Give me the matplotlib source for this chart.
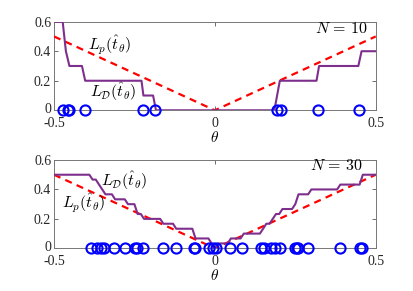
import numpy as np
import matplotlib
matplotlib.use("Agg")
import matplotlib.pyplot as plt
from matplotlib.transforms import ScaledTranslation

# ---------------- data ----------------
# N = 10 panel
theta_lp = [-0.5, 0.0, 0.5]
lp_vals = [0.5, 0.0, 0.5]

samples_10 = [-0.471, -0.457, -0.453, -0.403, -0.224, -0.186,
              0.194, 0.205, 0.322, 0.449]

ld10_theta = [-0.5, -0.473, -0.463, -0.452, -0.413, -0.403, -0.228, -0.222,
              -0.192, -0.183, 0.185, 0.202, 0.316, 0.324, 0.446, 0.456, 0.5]
ld10_vals = [0.6, 0.6, 0.4, 0.3, 0.3, 0.2, 0.2, 0.1,
             0.1, 0.0, 0.0, 0.2, 0.2, 0.3, 0.3, 0.4, 0.4]

# N = 30 panel
samples_30 = [-0.385, -0.366, -0.355, -0.345, -0.313, -0.278, -0.248, -0.242,
              -0.222, -0.161, -0.121, -0.065, -0.062, -0.017, -0.007,
              0.004, 0.046, 0.083, 0.143, 0.153, 0.173, 0.187, 0.203,
              0.249, 0.255, 0.258, 0.290, 0.389, 0.451, 0.457]

ld30_theta = [-0.50, -0.39, -0.38, -0.37, -0.36, -0.35, -0.34, -0.32, -0.31,
              -0.28, -0.27, -0.25, -0.24, -0.23, -0.22, -0.17, -0.16, -0.13,
              -0.12, -0.07, -0.06, -0.02, -0.01, 0.00, 0.01, 0.04, 0.05,
              0.08, 0.09, 0.14, 0.15, 0.16, 0.17, 0.18, 0.19, 0.20, 0.21,
              0.24, 0.25, 0.26, 0.29, 0.30, 0.38, 0.39, 0.45, 0.46, 0.50]
ld30_vals = [0.5, 0.5, 0.467, 0.467, 0.433, 0.4, 0.367, 0.367, 0.333,
             0.333, 0.3, 0.3, 0.233, 0.233, 0.2, 0.2, 0.167, 0.167,
             0.133, 0.133, 0.067, 0.067, 0.033, 0.0, 0.033, 0.033, 0.067,
             0.067, 0.1, 0.1, 0.133, 0.167, 0.167, 0.2, 0.233, 0.233, 0.267,
             0.267, 0.3, 0.367, 0.367, 0.4, 0.4, 0.433, 0.433, 0.5, 0.5]

xticks = [-0.5, 0, 0.5]
xtick_labels = ["-0.5", "0", "0.5"]
yticks = [0, 0.2, 0.4, 0.6]
ytick_labels = ["0", "0.2", "0.4", "0.6"]

PURPLE = (0.494, 0.184, 0.556)

plt.rcParams["mathtext.fontset"] = "cm"
plt.rcParams["font.family"] = "Liberation Serif"


def setup_axes(ax, fig):
    """MATLAB-like box axes."""
    ax.set_xlim(-0.5, 0.5)
    ax.set_ylim(0, 0.6)
    ax.set_xticks(xticks)
    ax.set_xticklabels(xtick_labels)
    ax.set_yticks(yticks)
    ax.set_yticklabels(ytick_labels)
    ax.tick_params(direction="in", length=3, width=0.6, color="#555555",
                   top=True, right=True, labelsize=10, labelcolor="#262626")
    ax.tick_params(axis="x", pad=5)
    ax.tick_params(axis="y", pad=2)
    for sp in ax.spines.values():
        sp.set_color("#777777")
        sp.set_linewidth(0.7)
    ax.set_xlabel(r"$\theta$", fontsize=11, labelpad=0)
    # lift the "0" y label a hair so it clears "-0.5"
    lab0 = ax.get_yticklabels()[0]
    lab0.set_transform(lab0.get_transform() +
                       ScaledTranslation(0, 2 / 72, fig.dpi_scale_trans))


def draw_panel(ax, fig, ld_theta, ld_vals, samples):
    ax.plot(theta_lp, lp_vals, color="r", linestyle=(0, (3.2, 2.4)),
            linewidth=1.6, zorder=3)
    ax.plot(ld_theta, ld_vals, color=PURPLE, linewidth=1.5, zorder=4)
    ax.plot(samples, np.zeros(len(samples)), "o", markersize=7.3,
            markerfacecolor="none", markeredgecolor="b",
            markeredgewidth=1.5, clip_on=False, zorder=5)
    setup_axes(ax, fig)


fig = plt.figure(figsize=(4.14, 2.91), dpi=100)

# top panel, N = 10
ax1 = fig.add_axes([0.1304, 0.6210, 0.7771, 0.3045])
draw_panel(ax1, fig, ld10_theta, ld10_vals, samples_10)
ax1.text(-0.326, 0.442, r"$L_p(\hat{t}_\theta)$", fontsize=11.5,
         ha="center", va="center")
ax1.text(-0.318, 0.126, r"$L_\mathcal{D}(\hat{t}_\theta)$", fontsize=11.5,
         ha="center", va="center")
ax1.text(0.477, 0.549, r"$N\,=\,10$", fontsize=11.5, ha="right", va="center")

# bottom panel, N = 30
ax2 = fig.add_axes([0.1304, 0.1467, 0.7771, 0.3034])
draw_panel(ax2, fig, ld30_theta, ld30_vals, samples_30)
ax2.text(-0.282, 0.459, r"$L_\mathcal{D}(\hat{t}_\theta)$", fontsize=11.5,
         ha="center", va="center")
ax2.text(-0.408, 0.306, r"$L_p(\hat{t}_\theta)$", fontsize=11.5,
         ha="center", va="center")
ax2.text(0.46, 0.559, r"$N\,=\,30$", fontsize=11.5, ha="right", va="center")

fig.savefig("out.png", dpi=100)
